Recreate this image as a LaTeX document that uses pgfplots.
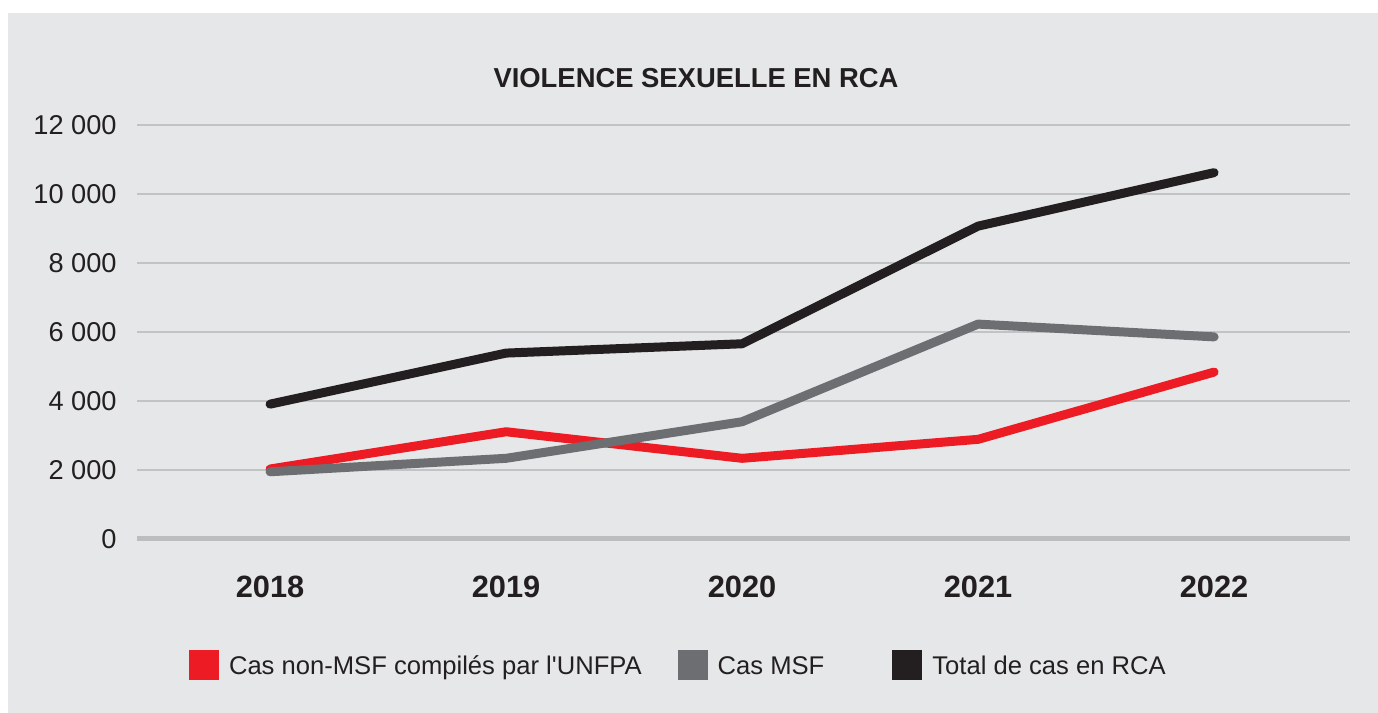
\documentclass[border=0pt]{standalone}
\usepackage{fontspec}
\setmainfont{Liberation Sans}
\usepackage{pgfplots}
\pgfplotsset{compat=1.18}
\definecolor{bg}{HTML}{E6E7E8}
\definecolor{dark}{HTML}{231F20}
\definecolor{gridc}{HTML}{C2C3C5}
\definecolor{zeroc}{HTML}{BCBDBF}
\definecolor{cred}{HTML}{ED1C24}
\definecolor{cgray}{HTML}{6D6E71}
\definecolor{cblack}{HTML}{231F20}
\begin{document}
\begin{tikzpicture}
\fill[white] (0,0) rectangle (689bp,356.5bp);
\fill[bg] (4bp,0) rectangle (689bp,350bp);
\node[font=\fontsize{13.7bp}{16bp}\selectfont\bfseries, text=dark] at (348bp,317.5bp) {VIOLENCE SEXUELLE EN RCA};
\begin{axis}[
  at={(68.5bp,87.15bp)}, anchor=south west,
  scale only axis, width=606.5bp, height=207bp,
  xmin=-0.564, xmax=4.576, ymin=0, ymax=12000,
  scaled y ticks=false,
  axis line style={draw=none},
  major tick length=0pt,
  clip=false,
  xtick={0,1,2,3,4}, xticklabels={2018,2019,2020,2021,2022},
  ytick={2000,4000,6000,8000,10000,12000},
  yticklabels={2 000,4 000,6 000,8 000,10 000,12 000},
  extra y ticks={0}, extra y tick labels={0},
  extra y tick style={grid style={line width=2.3bp, color=zeroc}},
  ymajorgrids,
  grid style={line width=1bp, color=gridc},
  tick label style={text=dark},
  yticklabel style={font=\fontsize{13.6bp}{16bp}\selectfont, inner sep=0pt, xshift=-10bp},
  xticklabel style={font=\fontsize{15.4bp}{18bp}\selectfont\bfseries, inner sep=0pt, yshift=-18.2bp},
  legend columns=3,
  legend image code/.code={\fill[#1, draw=none] (0bp,-7.5bp) rectangle (15bp,7.5bp);},
  legend style={at={(0.0429,-0.305)}, anchor=west, draw=none, fill=none,
    font=\fontsize{12.8bp}{15bp}\selectfont, text=dark, inner sep=0pt, outer sep=0pt,
    cells={anchor=west},
    nodes={inner sep=0pt, text height=9.2bp, text depth=0pt},
    /tikz/every odd column/.append style={column sep=5bp},
    /tikz/every even column/.append style={column sep=18bp}},
  every axis plot/.append style={line width=4.5bp, line join=round, line cap=round},
]
\addplot[color=cred] coordinates {(0,2020) (1,3100) (2,2330) (3,2880) (4,4830)};
\addlegendentry{Cas non-MSF compilés par l\textquotesingle UNFPA}
\addplot[color=cgray] coordinates {(0,1940) (1,2330) (2,3390) (3,6220) (4,5850)};
\addlegendentry{Cas MSF\rule{16bp}{0pt}}
\addplot[color=cblack] coordinates {(0,3900) (1,5380) (2,5650) (3,9060) (4,10610)};
\addlegendentry{Total de cas en RCA}
\end{axis}
\end{tikzpicture}
\end{document}
